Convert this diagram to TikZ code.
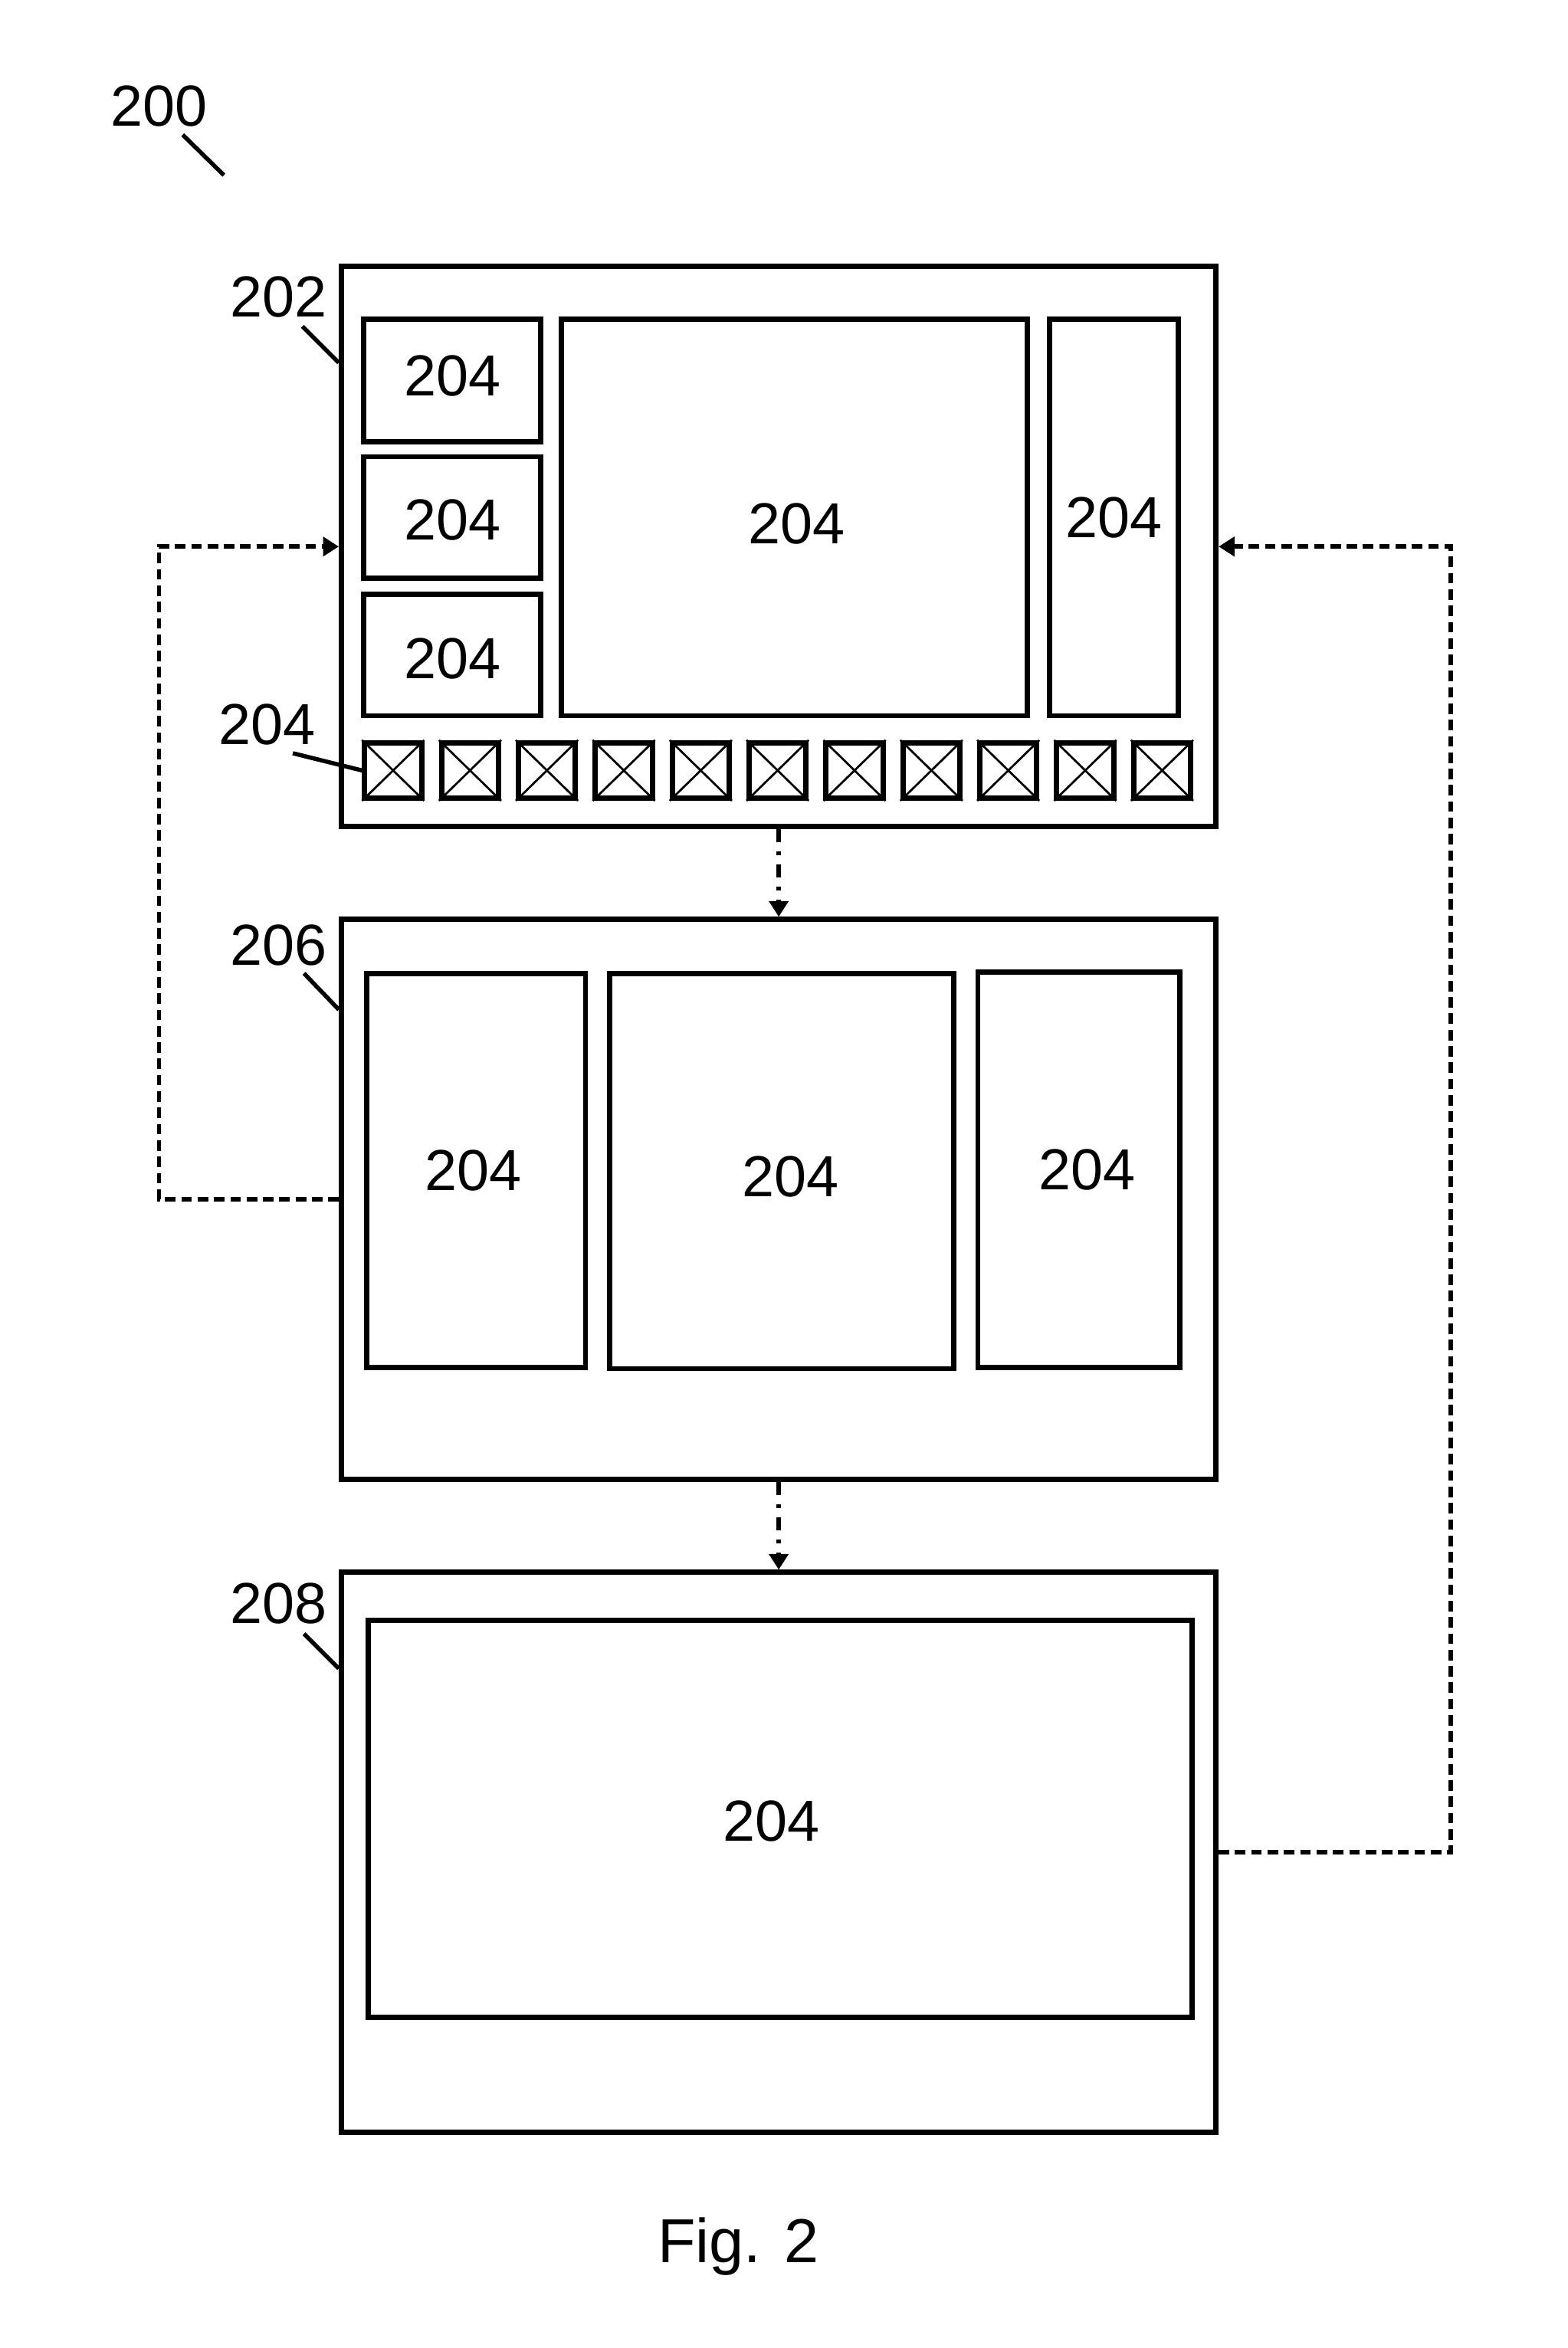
\documentclass[tikz,border=0pt]{standalone}
\usepackage{fontspec}
\setmainfont{Liberation Sans}
\usepackage{tikz}
\usetikzlibrary{positioning, arrows.meta, calc}

\begin{document}
\begin{tikzpicture}[>={Triangle[length=3pt, width=3.6pt]},
		font=\fontsize{11}{13}\selectfont,
		frame/.style={rectangle, draw, line width=1pt, inner sep=0pt},
		panel/.style={rectangle, draw, line width=1pt, inner sep=0pt},
		tag/.style={inner sep=0pt},
		leader/.style={line width=0.8pt},
		flow/.style={line width=0.8pt, dash pattern=on 2.4pt off 1.8pt on 0.7pt off 1.8pt, ->},
		back/.style={line width=0.8pt, dash pattern=on 2pt off 1.1pt, ->}]
		\useasboundingbox (0,0) rectangle (10.47,-15.68);
		
		% Screens
		\node[frame, minimum width=5.84cm, minimum height=3.74cm] (screen1) at (5.20,-3.65) {};
		\node[frame, minimum width=5.84cm, minimum height=3.74cm] (screen2) at (5.20,-8.01) {};
		\node[frame, minimum width=5.84cm, minimum height=3.74cm] (screen3) at (5.20,-12.37) {};
		
		% First screen panels
		\node[panel, minimum width=1.18cm, minimum height=0.82cm,
			label={[yshift=0.03cm]center:204}] (tile1) at (3.02,-2.54) {};
		\node[panel, minimum width=1.18cm, minimum height=0.81cm,
			label={[yshift=-0.015cm]center:204}] (tile2) at (3.02,-3.455) {};
		\node[panel, minimum width=1.18cm, minimum height=0.81cm,
			label={[yshift=-0.025cm]center:204}] (tile3) at (3.02,-4.375) {};
		\node[panel, minimum width=3.11cm, minimum height=2.65cm,
			label={[xshift=0.015cm, yshift=-0.045cm]center:204}] (main1) at (5.305,-3.455) {};
		\node[panel, minimum width=0.86cm, minimum height=2.65cm] (side1) at (7.44,-3.455) {204};
		
		% Row of keys
		\foreach \i in {0,...,10} {
			\node[panel, minimum width=0.38cm, minimum height=0.37cm] (key\i) at ({2.625+0.5135*\i},-5.145) {};
			\draw[line width=0.4pt] (key\i.north west) -- (key\i.south east) (key\i.north east) -- (key\i.south west);
		}
		
		% Second screen panels
		\node[panel, minimum width=1.46cm, minimum height=2.63cm,
			label={[xshift=-0.02cm]center:204}] (left2) at (3.18,-7.815) {};
		\node[panel, minimum width=2.30cm, minimum height=2.64cm,
			label={[xshift=0.06cm, yshift=-0.04cm]center:204}] (main2) at (5.22,-7.82) {};
		\node[panel, minimum width=1.35cm, minimum height=2.64cm,
			label={[xshift=0.055cm]center:204}] (right2) at (7.205,-7.81) {};
		
		% Third screen panel
		\node[panel, minimum width=5.50cm, minimum height=2.65cm,
			label={[xshift=-0.06cm, yshift=-0.015cm]center:204}] (main3) at (5.21,-12.145) {};
		
		% Reference labels
		\node[tag] (ref200) at (1.06,-0.71) {200};
		\node[tag] (ref202) at (1.86,-1.985) {202};
		\node[tag] (ref204) at (1.785,-4.84) {204};
		\node[tag] (ref206) at (1.86,-6.31) {206};
		\node[tag] (ref208) at (1.86,-10.71) {208};
		
		\draw[leader] (1.22,-0.90) -- (1.495,-1.17);
		\draw[leader] (2.02,-2.18) -- ($(screen1.north west)+(0,-0.66)$);
		\draw[leader] (1.955,-5.03) -- (key0.west);
		\draw[leader] (2.03,-6.50) -- ($(screen2.north west)+(0,-0.62)$);
		\draw[leader] (2.03,-10.91) -- ($(screen3.north west)+(0,-0.66)$);
		
		% Flow between screens
		\draw[flow] (screen1.south) -- (screen2.north);
		\draw[flow] (screen2.south) -- (screen3.north);
		
		% Return paths
		\draw[back] (screen2.west) -- ++(-1.20,0) |- (screen1.west);
		\draw[back] (screen3.east) -- ++(1.55,0) |- (screen1.east);
		
		% Caption
		\node[tag, anchor=base, font=\fontsize{11.8}{14}\selectfont] (caption) at (4.93,-15.11) {Fig. 2};
	\end{tikzpicture}
\end{document}
